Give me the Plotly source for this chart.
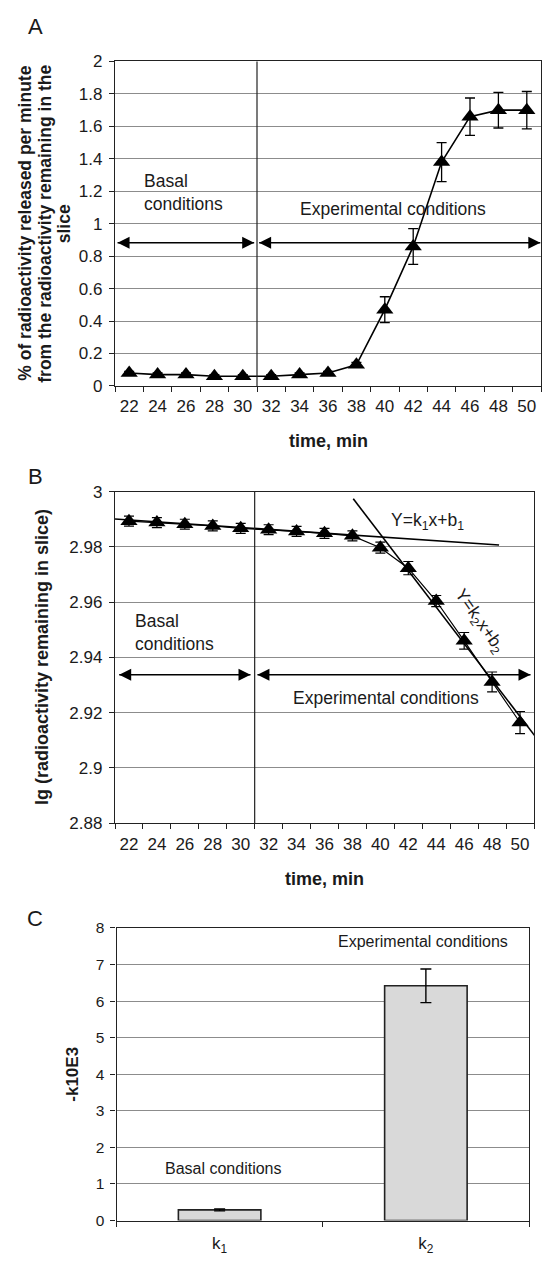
import plotly.graph_objects as go

# ---------------- data ----------------
time_min = [22, 24, 26, 28, 30, 32, 34, 36, 38, 40, 42, 44, 46, 48, 50]
release_pct = [0.08, 0.07, 0.07, 0.06, 0.06, 0.06, 0.07, 0.08, 0.13, 0.47, 0.86, 1.38, 1.66, 1.70, 1.70]
release_err = [0.01, 0.01, 0.01, 0.01, 0.01, 0.01, 0.01, 0.01, 0.015, 0.08, 0.11, 0.12, 0.115, 0.11, 0.115]

lg_remaining = [2.9893, 2.9888, 2.9882, 2.9876, 2.9867, 2.9862, 2.9856, 2.9849, 2.9840,
                2.9797, 2.9723, 2.9604, 2.9460, 2.9311, 2.9164]
lg_err = [0.0018, 0.0018, 0.0018, 0.0018, 0.0018, 0.0018, 0.0018, 0.0018, 0.0018,
          0.002, 0.0024, 0.002, 0.003, 0.0036, 0.004]

trend1_x = [21, 48.5]
trend1_y = [2.9901, 2.9807]
trend2_x = [38.06, 51.1]
trend2_y = [2.9974, 2.9113]

rate_labels = ["k<sub>1</sub>", "k<sub>2</sub>"]
rate_values = [0.29, 6.42]
rate_err = [0.025, 0.46]

a_yticks = [0, 0.2, 0.4, 0.6, 0.8, 1, 1.2, 1.4, 1.6, 1.8, 2]
a_yticktext = ["0", "0.2", "0.4", "0.6", "0.8", "1", "1.2", "1.4", "1.6", "1.8", "2"]
b_yticks = [2.88, 2.90, 2.92, 2.94, 2.96, 2.98, 3.00]
b_yticktext = ["2.88", "2.9", "2.92", "2.94", "2.96", "2.98", "3"]
c_yticks = [0, 1, 2, 3, 4, 5, 6, 7, 8]

a_ytitle_lines = ["% of radioactivity released per minute",
                  "from the radioactivity remaining in the",
                  "slice"]

basal_end = 31  # boundary between basal and experimental periods

# ---------------- styling ----------------
W, H = 542, 1264
FONT = "Liberation Sans, Arial, sans-serif"
TXT = "#1a1a1a"
GRID = "#8c8c8c"
TICK_FONT = dict(family=FONT, size=17, color=TXT)
TICK_FONT_C = dict(family=FONT, size=15.5, color=TXT)
TITLE_FONT = dict(family=FONT, size=18, color=TXT)
ANN_FONT = dict(family=FONT, size=17.5, color=TXT)
ANN_FONT_C = dict(family=FONT, size=16, color=TXT)


def xdom(l, r):
    return [l / W, r / W]


def ydom(top, bottom):
    return [1 - bottom / H, 1 - top / H]


boundaries = [t - 1 for t in time_min] + [time_min[-1] + 1]

fig = go.Figure()

# Panel A
fig.add_trace(go.Scatter(
    x=time_min, y=release_pct, mode="lines+markers",
    line=dict(color="black", width=1.6),
    marker=dict(symbol="triangle-up", size=15, color="black"),
    error_y=dict(type="data", array=release_err, color="black", thickness=1.3, width=5),
    xaxis="x", yaxis="y", showlegend=False))

# Panel B
fig.add_trace(go.Scatter(
    x=time_min, y=lg_remaining, mode="lines+markers",
    line=dict(color="black", width=1.2),
    marker=dict(symbol="triangle-up", size=15, color="black"),
    error_y=dict(type="data", array=lg_err, color="black", thickness=1.2, width=5),
    xaxis="x2", yaxis="y2", showlegend=False))
fig.add_trace(go.Scatter(x=trend1_x, y=trend1_y, mode="lines",
                         line=dict(color="black", width=1.6),
                         xaxis="x2", yaxis="y2", showlegend=False, cliponaxis=False))
fig.add_trace(go.Scatter(x=trend2_x, y=trend2_y, mode="lines",
                         line=dict(color="black", width=1.6),
                         xaxis="x2", yaxis="y2", showlegend=False, cliponaxis=False))

# Panel C
fig.add_trace(go.Bar(
    x=[0, 1], y=rate_values, width=0.4,
    marker=dict(color="#d9d9d9", line=dict(color="#222222", width=1.6)),
    error_y=dict(type="data", array=rate_err, color="black", thickness=1.4, width=5.5),
    xaxis="x3", yaxis="y3", showlegend=False))


# double-headed period arrows (line + arrow markers whose tip sits on the end point)
def arrow(xa, ya, x0, x1, y):
    fig.add_trace(go.Scatter(
        x=[x0, x1], y=[y, y], mode="lines+markers",
        line=dict(color="black", width=1.4),
        marker=dict(symbol=["arrow-left", "arrow-right"], size=12, color="black"),
        xaxis=xa, yaxis=ya, showlegend=False, hoverinfo="skip", cliponaxis=False))


arrow("x", "y", 21.18, 30.8, 0.883)
arrow("x", "y", 31.15, 50.95, 0.883)
arrow("x2", "y2", 21.3, 30.7, 2.9337)
arrow("x2", "y2", 31.2, 50.75, 2.9337)

common_x = dict(
    range=[21, 51], tickmode="array", tickvals=time_min, ticktext=[str(t) for t in time_min],
    ticks="", showgrid=False, zeroline=False, showline=True, linecolor="#222", linewidth=1.3,
    mirror=True, tickfont=TICK_FONT, ticklabelstandoff=5,
    minor=dict(tickmode="array", tickvals=boundaries, ticks="outside", ticklen=5,
               tickcolor="#222", tickwidth=1, showgrid=False),
)
common_y = dict(
    tickmode="array", ticks="outside", ticklen=5, tickcolor="#222", tickwidth=1,
    showgrid=True, gridcolor=GRID, gridwidth=1, zeroline=False, showline=True,
    linecolor="#222", linewidth=1.3, mirror=True, tickfont=TICK_FONT, ticklabelstandoff=3,
)
c_y = dict(common_y)
c_y["tickfont"] = TICK_FONT_C

fig.update_layout(
    width=W, height=H, margin=dict(l=0, r=0, t=0, b=0),
    paper_bgcolor="white", plot_bgcolor="white", showlegend=False,
    font=dict(family=FONT, color=TXT),
    xaxis=dict(domain=xdom(115, 541), anchor="y", **common_x),
    yaxis=dict(domain=ydom(53.3, 382.7), anchor="x", range=[0, 2],
               tickvals=a_yticks, ticktext=a_yticktext, **common_y),
    xaxis2=dict(domain=xdom(115, 534), anchor="y2", **common_x),
    yaxis2=dict(domain=ydom(490, 826.5), anchor="x2", range=[2.88, 3.0],
                tickvals=b_yticks, ticktext=b_yticktext, **common_y),
    xaxis3=dict(domain=xdom(116.5, 529), anchor="y3", range=[-0.5, 1.5],
                tickmode="array", tickvals=[0, 1], ticktext=rate_labels, ticks="",
                showgrid=False, zeroline=False, showline=True, linecolor="#222", linewidth=1.3,
                mirror=True, tickfont=dict(family=FONT, size=17, color=TXT), ticklabelstandoff=7,
                minor=dict(tickmode="array", tickvals=[-0.5, 0.5, 1.5], ticks="outside",
                           ticklen=5, tickcolor="#222", showgrid=False)),
    yaxis3=dict(domain=ydom(933, 1230), anchor="x3", range=[0, 8],
                tickvals=c_yticks, ticktext=[str(v) for v in c_yticks], **c_y),
)

# vertical boundary lines
for xr in ("x", "x2"):
    yr = "y" if xr == "x" else "y2"
    fig.add_shape(type="line", xref=xr, yref=yr + " domain", x0=basal_end, x1=basal_end,
                  y0=0, y1=1, line=dict(color="#222", width=1.2))

ann = []


def label(xr, yr, x, y, text, font=ANN_FONT, xanchor="center", align="center", angle=0):
    ann.append(dict(xref=xr, yref=yr, x=x, y=y, text=text, showarrow=False,
                    xanchor=xanchor, yanchor="middle", align=align, textangle=angle, font=font))


# Panel A annotations
label("x", "y", 22.9, 1.19, "Basal<br>conditions", xanchor="left", align="left")
label("x", "y", 40.6, 1.09, "Experimental conditions")

# Panel B annotations
label("x2", "y2", 22.3, 2.9489, "Basal<br>conditions", xanchor="left", align="left")
label("x2", "y2", 40.42, 2.9254, "Experimental conditions")
label("x2", "y2", 43.4, 2.9893, "Y=k<sub>1</sub>x+b<sub>1</sub>")
label("x2", "y2", 47.1, 2.9531, "Y=k<sub>2</sub>x+b<sub>2</sub>", angle=55)

# Panel C annotations
label("x3", "y3", 0.02, 1.41, "Basal conditions", font=ANN_FONT_C)
label("x3", "y3", 0.984, 7.62, "Experimental conditions", font=ANN_FONT_C)

# panel letters
for letter, yp in (("A", 18), ("B", 475), ("C", 923)):
    label("paper", "paper", 35 / W, 1 - yp / H, letter, font=dict(family=FONT, size=22, color=TXT))

# axis titles
label("paper", "paper", (115 + 541) / 2 / W, 1 - 439 / H, "<b>time, min</b>", font=TITLE_FONT)
label("paper", "paper", (115 + 534) / 2 / W, 1 - 883 / H, "<b>time, min</b>", font=TITLE_FONT)
for line_text, xp in zip(a_ytitle_lines, (25, 45, 63.5)):
    label("paper", "paper", xp / W, 1 - 218 / H, "<b>" + line_text + "</b>",
          font=dict(family=FONT, size=17.5, color=TXT), angle=-90)
label("paper", "paper", 42 / W, 1 - 658 / H, "<b>lg (radioactivity remaining in slice)</b>",
      font=TITLE_FONT, angle=-90)
label("paper", "paper", 73 / W, 1 - 1082 / H, "<b>-k10E3</b>",
      font=dict(family=FONT, size=17, color=TXT), angle=-90)

fig.update_layout(annotations=ann)
fig.write_html("out.html")
